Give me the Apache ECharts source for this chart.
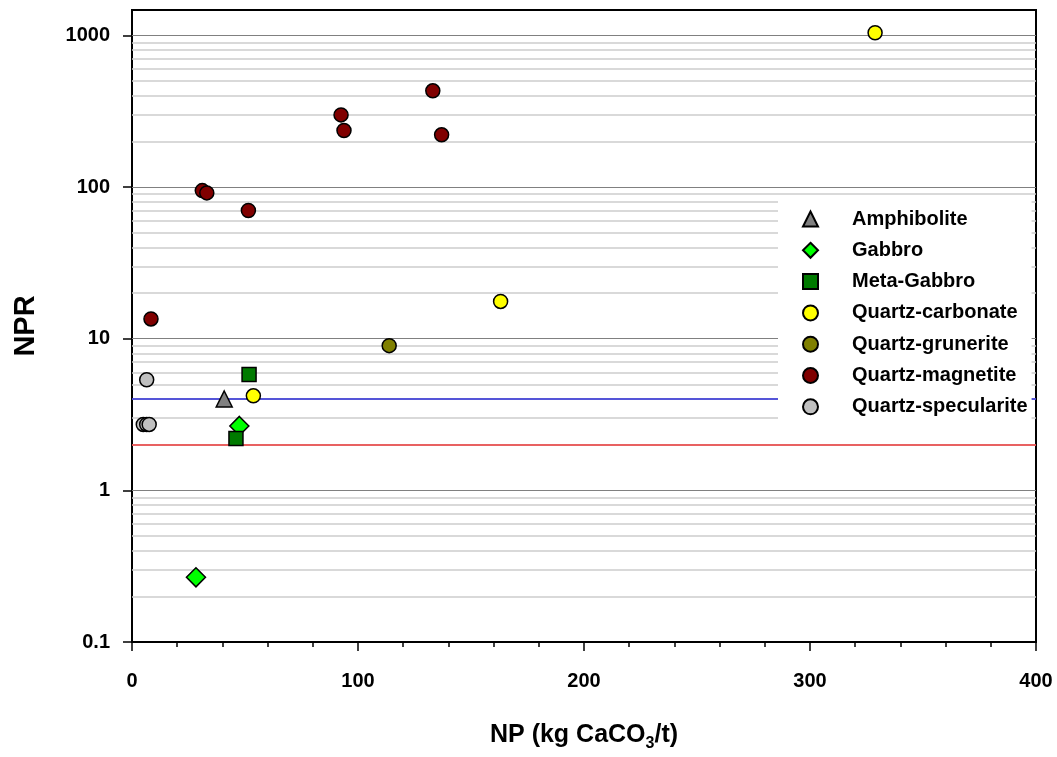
<!DOCTYPE html>
<html>
<head>
<meta charset="utf-8">
<title>NPR vs NP</title>
<script src="https://cdn.jsdelivr.net/npm/echarts@6/dist/echarts.min.js"></script>
<style>
    html, body { margin: 0; padding: 0; background: #fff; }
    #chart { width: 1057px; height: 757px; }
</style>
</head>
<body>
<div id="chart"></div>
<script>
// 数据 [NP, NPR]
var amphibolite = [[40.8, 4.0]];
var gabbro = [[47.5, 2.66], [28.3, 0.267]];
var metaGabbro = [[51.8, 5.8], [46.0, 2.2]];
var quartzCarbonate = [[328.8, 1040], [163.1, 17.6], [53.7, 4.2]];
var quartzGrunerite = [[113.8, 9.0]];
var quartzMagnetite = [[31.1, 94.7], [33.1, 91.5], [51.5, 70], [92.5, 299], [93.8, 236],
    [133.1, 431], [137.0, 221], [8.4, 13.5]];
var quartzSpecularite = [[6.5, 5.36], [5.0, 2.72], [6.5, 2.72], [7.6, 2.72]];

// 参考线
var refBlue = 4;
var refRed = 2;

// 坐标轴
var xMin = 0, xMax = 400, xStep = 100;
var yMin = 0.1, yMax = 1470;
var yTicks = [0.1, 1, 10, 100, 1000];

var font = "'Liberation Sans', Arial, sans-serif";

// 次网格线 (2..9 x 10^n)
var minorLines = [];
for (var e = -1; e <= 3; e++) {
    for (var k = 2; k <= 9; k++) {
        var v = k * Math.pow(10, e);
        if (v < yMax) minorLines.push({ yAxis: v });
    }
}
// 主网格线
var majorLines = yTicks.slice(1).map(function (t) { return { yAxis: t }; });

function scatter(name, data, symbol, size, color) {
    return {
        name: name,
        type: "scatter",
        data: data,
        symbol: symbol,
        symbolSize: size,
        z: 3,
        itemStyle: { color: color, borderColor: "#000", borderWidth: 1.5, opacity: 1 },
    };
}

var chart = echarts.init(document.getElementById("chart"));
chart.setOption({
    animation: false,
    grid: {
        left: 132,
        right: 21,
        top: 10,
        bottom: 112,
        show: true,
        borderColor: "#000",
        borderWidth: 2,
    },
    legend: {
        orient: "vertical",
        left: 778,
        top: 199,
        width: 254,
        padding: [10, 4, 4, 24],
        itemGap: 11.3,
        itemWidth: 15,
        itemHeight: 15,
        backgroundColor: "#fff",
        textStyle: { fontFamily: font, fontWeight: "bold", fontSize: 20, color: "#000", padding: [0, 0, 0, 29] },
        data: ["Amphibolite", "Gabbro", "Meta-Gabbro", "Quartz-carbonate", "Quartz-grunerite",
            "Quartz-magnetite", "Quartz-specularite"],
    },
    xAxis: {
        type: "value",
        min: xMin,
        max: xMax,
        interval: xStep,
        name: "NP (kg CaCO{sub|3}/t)",
        nameLocation: "middle",
        nameGap: 76,
        nameTextStyle: {
            fontFamily: font, fontWeight: "bold", fontSize: 25, color: "#000",
            rich: {
                sub: { fontFamily: font, fontWeight: "bold", fontSize: 16, color: "#000", padding: [18, 0, 0, 0] },
            },
        },
        axisLine: { lineStyle: { color: "#000", width: 2 } },
        axisTick: { inside: false, length: 9, lineStyle: { color: "#000", width: 1.5 } },
        minorTick: { show: true, splitNumber: 5, length: 5, lineStyle: { color: "#000", width: 1.5 } },
        splitLine: { show: false },
        axisLabel: { margin: 29, fontFamily: font, fontWeight: "bold", fontSize: 20, color: "#000" },
    },
    yAxis: {
        type: "log",
        logBase: 10,
        min: yMin,
        max: yMax,
        name: "NPR",
        nameLocation: "middle",
        nameGap: 92,
        nameTextStyle: { fontFamily: font, fontWeight: "bold", fontSize: 29, color: "#000" },
        axisLine: { lineStyle: { color: "#000", width: 2 } },
        axisTick: { inside: false, length: 9, customValues: yTicks, lineStyle: { color: "#000", width: 1.5 } },
        splitLine: { show: false },
        axisLabel: {
            margin: 22,
            customValues: yTicks,
            fontFamily: font, fontWeight: "bold", fontSize: 20, color: "#000",
            formatter: function (val) { return String(+(+val).toPrecision(6)); },
        },
    },
    series: [
        {
            type: "line",
            data: [],
            silent: true,
            markLine: {
                silent: true,
                z: 1,
                symbol: "none",
                label: { show: false },
                lineStyle: { color: "#cccccc", width: 1.5, type: "solid" },
                data: minorLines,
            },
        },
        {
            type: "line",
            data: [],
            silent: true,
            markLine: {
                silent: true,
                z: 1,
                symbol: "none",
                label: { show: false },
                lineStyle: { color: "#808080", width: 1, type: "solid" },
                data: majorLines,
            },
        },
        {
            type: "line",
            data: [],
            silent: true,
            markLine: {
                silent: true,
                z: 1,
                symbol: "none",
                label: { show: false },
                data: [
                    { yAxis: refBlue, lineStyle: { color: "#2a2ad8", width: 1.5, type: "solid" } },
                    { yAxis: refRed, lineStyle: { color: "#ee3a3a", width: 1.5, type: "solid" } },
                ],
            },
        },
        scatter("Amphibolite", amphibolite, "triangle", 16, "#808080"),
        scatter("Gabbro", gabbro, "diamond", 19, "#00ff00"),
        scatter("Meta-Gabbro", metaGabbro, "rect", 14, "#007a00"),
        scatter("Quartz-carbonate", quartzCarbonate, "circle", 14, "#ffff00"),
        scatter("Quartz-grunerite", quartzGrunerite, "circle", 14, "#808000"),
        scatter("Quartz-magnetite", quartzMagnetite, "circle", 14, "#800000"),
        scatter("Quartz-specularite", quartzSpecularite, "circle", 14, "#c0c0c0"),
    ],
});
</script>
</body>
</html>
